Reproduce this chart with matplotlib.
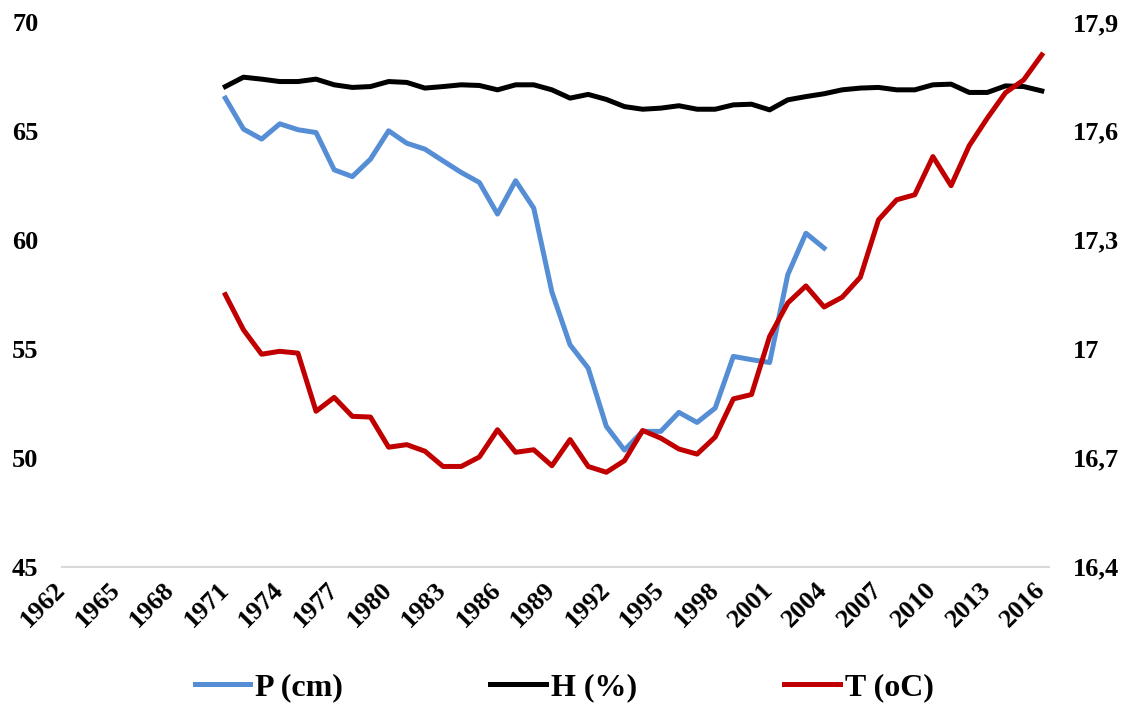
import matplotlib
matplotlib.use("Agg")
import matplotlib.pyplot as plt
from matplotlib import ticker

plt.rcParams['font.family'] = ['Liberation Serif', 'DejaVu Serif']
plt.rcParams['font.weight'] = 'bold'

years_p = list(range(1971, 2005))
p_cm = [66.5, 65.08, 64.62, 65.32, 65.05, 64.92, 63.21, 62.9, 63.7, 65.0,
        64.43, 64.16, 63.62, 63.09, 62.63, 61.18, 62.71, 61.45, 57.6, 55.18,
        54.11, 51.44, 50.35, 51.21, 51.21, 52.08, 51.62, 52.28, 54.65, 54.5,
        54.37, 58.4, 60.3, 59.62]

years = list(range(1971, 2017))
h_pct = [67.03, 67.46, 67.37, 67.26, 67.26, 67.37, 67.11, 66.99, 67.03, 67.26,
         67.22, 66.96, 67.03, 67.11, 67.08, 66.88, 67.11, 67.11, 66.88, 66.5,
         66.67, 66.44, 66.11, 65.99, 66.04, 66.15, 65.99, 65.99, 66.19, 66.22,
         65.96, 66.42, 66.57, 66.7, 66.88, 66.96, 66.99, 66.88, 66.88, 67.11,
         67.14, 66.76, 66.76, 67.06, 67.03, 66.83]
t_c = [17.149, 17.052, 16.985, 16.993, 16.988, 16.828, 16.866, 16.814, 16.812, 16.729,
       16.736, 16.718, 16.676, 16.676, 16.702, 16.777, 16.715, 16.722, 16.678, 16.75,
       16.676, 16.66, 16.692, 16.775, 16.754, 16.724, 16.71, 16.757, 16.862, 16.874,
       17.034, 17.126, 17.173, 17.115, 17.142, 17.197, 17.355, 17.41, 17.424, 17.529,
       17.449, 17.559, 17.635, 17.705, 17.74, 17.809]

x_ticks = list(range(1962, 2017, 3))
left_ticks = [45, 50, 55, 60, 65, 70]
right_ticks = [16.4, 16.7, 17.0, 17.3, 17.6, 17.9]

fs = 19
fig = plt.figure(figsize=(11.28, 7.04), dpi=100)
ax = fig.add_axes([0.055, 0.195, 0.875, 0.774])
ax2 = ax.twinx()

l1, = ax.plot(years_p, p_cm, color='#558ED5', lw=3.6, label='P (cm)')
l2, = ax.plot(years, h_pct, color='black', lw=3.6, label='H (%)')
l3, = ax2.plot(years, t_c, color='#C00000', lw=3.6, label='T (oC)')

ax.set_xlim(1962, 2016.4)
ax.set_ylim(45, 70)
ax2.set_ylim(16.4, 17.9)
ax.set_yticks(left_ticks)
ax2.set_yticks(right_ticks)
ax2.yaxis.set_major_formatter(
    ticker.FuncFormatter(lambda v, pos: ('%g' % round(v, 1)).replace('.', ',')))
ax.set_xticks(x_ticks)
ax.set_xticklabels([str(y) for y in x_ticks], rotation=45, ha='right',
                   va='center', rotation_mode='anchor')

for a in (ax, ax2):
    for s in a.spines.values():
        s.set_visible(False)
ax.spines['bottom'].set_visible(True)
ax.spines['bottom'].set_color('#d9d9d9')
ax.spines['bottom'].set_linewidth(1.5)

ax.tick_params(axis='y', length=0, pad=17, labelsize=fs)
ax.tick_params(axis='x', length=0, pad=14, labelsize=fs)
ax2.tick_params(axis='y', length=0, pad=17, labelsize=fs)

fig.legend(handles=[l1, l2, l3], loc='center', bbox_to_anchor=(0.5, 0.024),
           ncol=3, frameon=False, fontsize=23, handlelength=1.75,
           handletextpad=0.15, columnspacing=4.6)

fig.savefig('out.png', dpi=100)
